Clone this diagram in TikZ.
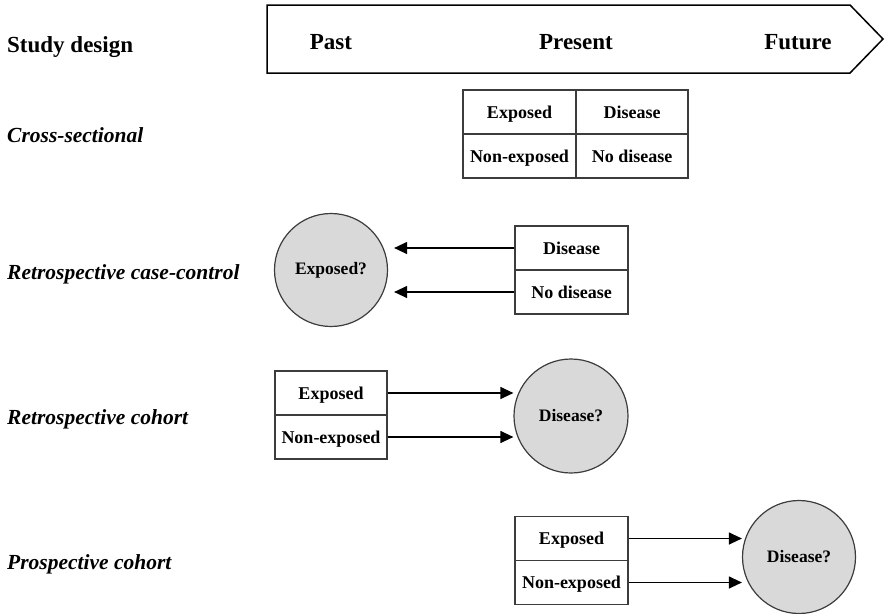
\documentclass[tikz,border=0pt]{standalone}
\usepackage{fontspec}
\setmainfont{Liberation Serif}
\usetikzlibrary{arrows.meta}
\definecolor{circfill}{RGB}{217,217,217}
\definecolor{lineclr}{RGB}{60,60,60}
\begin{document}
\begin{tikzpicture}[x=1pt,y=-1pt,
  cell/.style={draw=lineclr, line width=1.3pt, minimum width=113pt, minimum height=44pt,
    inner sep=0pt, text height=14pt, text depth=2pt, font=\fontsize{18}{20}\selectfont\bfseries},
  ball/.style={circle, draw=lineclr, line width=1.2pt, fill=circfill, minimum size=113pt,
    inner sep=0pt, font=\fontsize{17.5}{20}\selectfont\bfseries},
  rowlabel/.style={anchor=base west, inner sep=0pt, font=\fontsize{21.5}{24}\selectfont\bfseries\itshape},
  heading/.style={anchor=base west, inner sep=0pt, font=\fontsize{23}{26}\selectfont\bfseries},
  timetext/.style={anchor=base, inner sep=0pt, font=\fontsize{23}{26}\selectfont\bfseries},
  timeline/.style={draw=black, line width=1.5pt, line join=miter},
  conn/.style={draw=black, line width=1.2pt, -{Triangle[length=13pt,width=12pt]}}
]
\useasboundingbox (0,0) rectangle (885,613);

% timeline arrow
\coordinate (t1) at (267,5);
\coordinate (t2) at (850,5);
\coordinate (t3) at (883,39);
\coordinate (t4) at (850,73);
\coordinate (t5) at (267,73);
\draw[timeline] (t1) -- (t2) -- (t3) -- (t4) -- (t5) -- cycle;
\node[timetext] (past) at (331,49) {Past};
\node[timetext] (present) at (576,49) {Present};
\node[timetext] (future) at (798,49) {Future};

% labels
\node[heading] (hd) at (7,52) {Study design};
\node[rowlabel] (l1) at (7,142) {Cross-sectional};
\node[rowlabel] (l2) at (7,279) {Retrospective case-control};
\node[rowlabel] (l3) at (7,424) {Retrospective cohort};
\node[rowlabel] (l4) at (7,569) {Prospective cohort};

% cross-sectional table
\node[cell, minimum width=113pt] (cs11) at (519.5,112) {Exposed};
\node[cell, minimum width=112pt] (cs12) at (632,112) {Disease};
\node[cell, minimum width=113pt] (cs21) at (519.5,156) {Non-exposed};
\node[cell, minimum width=112pt] (cs22) at (632,156) {No disease};

% retrospective case-control
\node[ball] (ccc) at (331,270) {Exposed?};
\node[cell] (cc1) at (571.5,248) {Disease};
\node[cell] (cc2) at (571.5,292) {No disease};
\draw[conn, shorten >=6pt] (cc1.west) -- (cc1.west -| ccc.east);
\draw[conn, shorten >=6pt] (cc2.west) -- (cc2.west -| ccc.east);

% retrospective cohort
\node[cell, minimum width=112pt] (rc1) at (331,393) {Exposed};
\node[cell, minimum width=112pt] (rc2) at (331,437) {Non-exposed};
\node[ball, minimum size=114pt] (rcc) at (571,416) {Disease?};
\draw[conn] (rc1.east) -- (rc1.east -| rcc.west);
\draw[conn] (rc2.east) -- (rc2.east -| rcc.west);

% prospective cohort
\node[cell] (pc1) at (571.5,538.5) {Exposed};
\node[cell] (pc2) at (571.5,582.5) {Non-exposed};
\node[ball] (pcc) at (799,557) {Disease?};
\draw[conn] (pc1.east) -- (pc1.east -| pcc.west);
\draw[conn] (pc2.east) -- (pc2.east -| pcc.west);
\end{tikzpicture}
\end{document}
